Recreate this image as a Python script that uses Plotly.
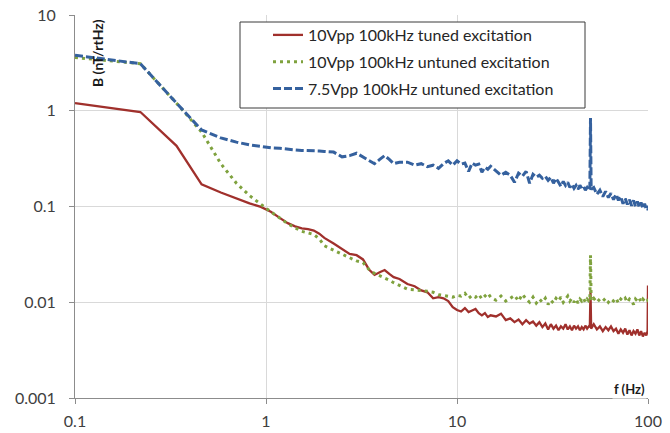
import plotly.graph_objects as go

# ---- data ----
freq = [0.1, 0.22, 0.34, 0.46, 0.58, 0.7, 0.82, 0.94, 1.06, 1.18, 1.3, 1.42, 1.54, 1.66, 1.78, 1.9,
        2.02, 2.26, 2.5, 2.74, 2.98, 3.22, 3.46, 3.7, 3.94, 4.18, 4.42, 4.66, 5.0, 5.5, 6.0, 6.5,
        7.0, 7.5, 8.0, 8.5, 9.0, 9.5, 10.0,
        10.5, 11, 11.5, 12, 12.5, 13, 13.5, 14, 14.5, 15,
        16, 17, 18, 19, 20, 21, 22, 23, 24, 25, 26, 27, 28, 29, 30, 31, 32, 33, 34, 35, 36, 37,
        38, 39, 40, 41, 42, 43, 44, 45, 46, 47, 48, 49,
        49.6, 50, 50.4,
        52, 54, 56, 58, 60, 62, 64, 66, 68, 70, 72, 74, 76, 78, 80, 82, 84, 86, 88, 90, 92, 94, 96, 98,
        99.5, 100]

tuned_10vpp = [1.2, 0.97, 0.43, 0.17, 0.14, 0.121, 0.108, 0.099, 0.088, 0.076, 0.067, 0.062, 0.059, 0.058,
               0.056, 0.052, 0.047, 0.041, 0.036, 0.032, 0.031, 0.028, 0.022, 0.0193, 0.0206, 0.0217,
               0.0198, 0.0183, 0.0175, 0.0155, 0.0147, 0.0133, 0.0127, 0.011, 0.0113, 0.011, 0.0103,
               0.0089, 0.0083,
               0.0080, 0.0087, 0.0079, 0.0082, 0.0085, 0.0077, 0.0073, 0.0077, 0.0070, 0.0073,
               0.0071, 0.0076, 0.0065, 0.0068, 0.0062, 0.0066, 0.0059, 0.0065, 0.0060, 0.0063, 0.0057,
               0.0062, 0.0055, 0.0060, 0.0052, 0.0059, 0.0053, 0.0057, 0.0051, 0.0056, 0.0053, 0.0059,
               0.0052, 0.0056, 0.0051, 0.0057, 0.0053, 0.0056, 0.0051, 0.0055, 0.0052, 0.0057, 0.0053,
               0.0056,
               0.0055, 0.013, 0.0053,
               0.0059, 0.0052, 0.0056, 0.0050, 0.0055, 0.0051, 0.0056, 0.0050, 0.0053, 0.0047, 0.0052,
               0.0048, 0.0053, 0.0046, 0.0051, 0.0045, 0.0050, 0.0047, 0.0052, 0.0045, 0.0050, 0.0044,
               0.0048, 0.0045,
               0.0050, 0.015]

untuned_10vpp = [3.6, 3.1, 1.2, 0.6, 0.28, 0.175, 0.13, 0.105, 0.088, 0.076, 0.066, 0.06, 0.055, 0.053,
                 0.051, 0.046, 0.039, 0.035, 0.032, 0.029, 0.027, 0.026, 0.022, 0.020, 0.019, 0.0178,
                 0.017, 0.016, 0.015, 0.0137, 0.0135, 0.0133, 0.013, 0.0127, 0.012, 0.0118, 0.0115,
                 0.0113, 0.0118,
                 0.0116, 0.0124, 0.0110, 0.0118, 0.0113, 0.0121, 0.0108, 0.0116, 0.0124, 0.0113,
                 0.0105, 0.0116, 0.0103, 0.0110, 0.0118, 0.0103, 0.0121, 0.0108, 0.0100, 0.0113, 0.0098,
                 0.0108, 0.0100, 0.0110, 0.0095, 0.0105, 0.0098, 0.0110, 0.0103, 0.0113, 0.0100, 0.0108,
                 0.0116, 0.0103, 0.0110, 0.0100, 0.0108, 0.0098, 0.0108, 0.0103, 0.0110, 0.0100, 0.0108,
                 0.0103,
                 0.0105, 0.031, 0.0103,
                 0.0110, 0.0100, 0.0108, 0.0103, 0.0110, 0.0100, 0.0108, 0.0103, 0.0110, 0.0098, 0.0108,
                 0.0103, 0.0110, 0.0100, 0.0108, 0.0103, 0.0095, 0.0108, 0.0103, 0.0110, 0.0100, 0.0108,
                 0.0103, 0.0108,
                 0.0105, 0.0108]

untuned_7v5vpp = [3.8, 3.1, 1.2, 0.63, 0.52, 0.47, 0.44, 0.42, 0.41, 0.405, 0.395, 0.39, 0.385, 0.385,
                  0.38, 0.38, 0.375, 0.37, 0.33, 0.34, 0.36, 0.33, 0.30, 0.28, 0.31, 0.34, 0.31, 0.28,
                  0.29, 0.29, 0.27, 0.28, 0.26, 0.27, 0.25, 0.28, 0.30, 0.27, 0.30,
                  0.277, 0.284, 0.233, 0.284, 0.270, 0.277, 0.228, 0.257, 0.245, 0.263,
                  0.233, 0.212, 0.228, 0.212, 0.179, 0.223, 0.207, 0.233, 0.175, 0.217, 0.202, 0.212,
                  0.197, 0.207, 0.188, 0.202, 0.175, 0.197, 0.179, 0.162, 0.183, 0.166, 0.179, 0.158,
                  0.171, 0.155, 0.166, 0.151, 0.166, 0.155, 0.162, 0.148, 0.158, 0.148,
                  0.155, 0.84, 0.151,
                  0.158, 0.134, 0.148, 0.127, 0.144, 0.124, 0.137, 0.118, 0.134, 0.116, 0.127, 0.107,
                  0.121, 0.105, 0.118, 0.102, 0.116, 0.100, 0.113, 0.098, 0.110, 0.095, 0.107, 0.093,
                  0.102, 0.091]

series_names = ["10Vpp 100kHz tuned excitation",
                "10Vpp 100kHz untuned excitation",
                "7.5Vpp 100kHz untuned excitation"]
x_tickvals = [0.1, 1, 10, 100]
x_ticktext = ["0.1", "1", "10", "100"]
y_tickvals = [0.001, 0.01, 0.1, 1, 10]
y_ticktext = ["0.001", "0.01", "0.1", "1", "10"]

FONT = "Lato, 'Open Sans', sans-serif"
W, H = 670, 433
L, R, T, B = 75, 22, 15, 35
PW, PH = W - L - R, H - T - B


def px2paper_x(px):
    return (px - L) / PW


def px2paper_y(py):
    return 1 - (py - T) / PH


fig = go.Figure()
fig.add_trace(go.Scatter(x=freq, y=tuned_10vpp, mode="lines", name=series_names[0],
                         legendgroup="a",
                         line=dict(color="#A0302C", width=2.3)))
fig.add_trace(go.Scatter(x=freq, y=untuned_10vpp, mode="lines", name=series_names[1],
                         legendgroup="b",
                         line=dict(color="#7FA23E", width=3, dash="3px,4px")))
fig.add_trace(go.Scatter(x=freq, y=untuned_7v5vpp, mode="lines", name=series_names[2],
                         legendgroup="c",
                         line=dict(color="#35619E", width=3, dash="8px,3px")))

axis_common = dict(showgrid=True, gridcolor="#D9D9D9", gridwidth=1,
                   showline=True, linecolor="#8C8C8C", linewidth=1,
                   ticks="outside", ticklen=5, tickcolor="#8C8C8C",
                   tickfont=dict(family=FONT, size=16, color="#404040"),
                   zeroline=False, automargin=False)

fig.update_xaxes(type="log", range=[-1, 2], tickvals=x_tickvals, ticktext=x_ticktext,
                 ticklabelstandoff=4, **axis_common)
fig.update_yaxes(type="log", range=[-3, 1], tickvals=y_tickvals, ticktext=y_ticktext,
                 ticklabelstandoff=10, **axis_common)

# legend frame
fig.add_shape(type="rect", xref="paper", yref="paper",
              x0=px2paper_x(240), x1=px2paper_x(585), y0=px2paper_y(108), y1=px2paper_y(22),
              line=dict(color="#3A3A3A", width=1), fillcolor="white", layer="above")

fig.add_annotation(text="<b>B (nT/rtHz)</b>", xref="paper", yref="paper",
                   x=px2paper_x(97), y=px2paper_y(53), textangle=-90, showarrow=False,
                   xanchor="center", yanchor="middle",
                   font=dict(family=FONT, size=14, color="#1A1A1A"))
fig.add_annotation(text="<b>f (Hz)</b>", xref="paper", yref="paper",
                   x=px2paper_x(629), y=px2paper_y(389), showarrow=False,
                   xanchor="center", yanchor="middle", bgcolor="white",
                   font=dict(family=FONT, size=13, color="#1A1A1A"))

fig.update_layout(
    width=W, height=H,
    margin=dict(l=L, r=R, t=T, b=B, pad=0, autoexpand=False),
    paper_bgcolor="white", plot_bgcolor="white",
    showlegend=True,
    legend=dict(x=px2paper_x(268), y=px2paper_y(18), xanchor="left", yanchor="top",
                bgcolor="rgba(0,0,0,0)", borderwidth=0, tracegroupgap=3,
                font=dict(family=FONT, size=16, color="#262626")),
)

fig.write_html("out.html")
